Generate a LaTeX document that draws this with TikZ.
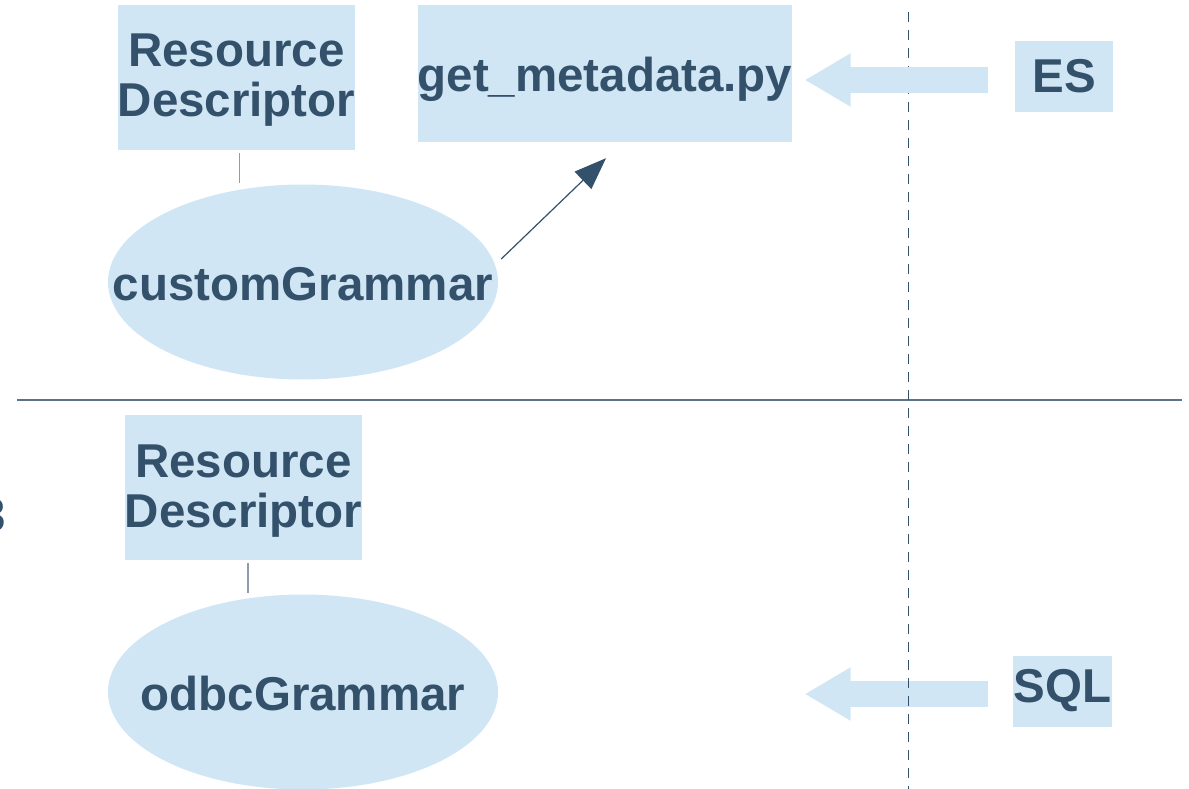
\documentclass[tikz,border=0pt]{standalone}
\usepackage{fontspec}
\setmainfont{Liberation Sans}
\usetikzlibrary{arrows.meta,shapes.geometric,positioning}
\definecolor{paleblue}{HTML}{D0E6F4}
\definecolor{inkblue}{HTML}{34516B}
\definecolor{rulegray}{HTML}{5E7389}
\definecolor{tiegray}{HTML}{8C9DB0}

\begin{document}
\begin{tikzpicture}[
  x=1pt, y=-1pt,
  label/.style={
    font=\fontsize{47.5}{50}\selectfont\bfseries,
    text=inkblue
  },
  box/.style={
    label,
    fill=paleblue,
    align=center,
    inner sep=0pt
  },
  descbox/.style={
    box,
    minimum width=237pt,
    minimum height=145pt,
    text height=89pt,
    text depth=10pt
  },
  blob/.style={
    label,
    ellipse,
    fill=paleblue,
    inner sep=0pt,
    minimum width=390pt,
    minimum height=195pt,
    text height=37pt,
    text depth=0pt
  },
  fat/.style={paleblue, line width=26pt, -{Triangle[length=46pt,width=50pt]},
    shorten <=27pt, shorten >=12pt},
  link/.style={inkblue, line width=1.2pt, -{Triangle[length=32pt,width=24pt]}},
  tie/.style={tiegray, line width=1.5pt},
  lane/.style={inkblue, line width=1pt, dash pattern=on 10pt off 8pt}
]
\useasboundingbox (0,0) rectangle (1189,789);

% upper half
\node[descbox] (desc1) at (236.5,77.5) {Resource\\Descriptor};
\node[box, minimum width=372pt, minimum height=137pt, text height=46pt, text depth=10pt] (meta) at (605,73.5) {get\_metadata.py};
\node[box, minimum width=98pt, minimum height=71pt] (es) at (1064,76.5) {ES};
\node[blob] (custom) at (303,282) {\makebox[0pt]{customGrammar}};

% lower half
\node[descbox] (desc2) at (243.5,487.5) {Resource\\Descriptor};
\node[blob] (odbc) at (303,692) {\makebox[0pt]{odbcGrammar}};
\node[box, minimum width=99pt, minimum height=71pt] (sql) at (1062.5,691) {SQL};
\node[label, anchor=base east, inner sep=0pt] (cut) at (6.5,531) {3};

\draw[rulegray, line width=1.2pt] (17,400) -- (1182,400);

\draw[fat, shorten <=25pt] ([yshift=-3pt]sql.west) -- ([yshift=-3pt]sql.west -| meta.east);
\draw[lane] (908,12) -- (908,789);
\draw[fat] ([yshift=-3.5pt]es.west) -- ([yshift=-3.5pt]es.west -| meta.east);

\draw[link] ([xshift=3pt,yshift=23pt]custom.east) -- ([xshift=1pt,yshift=-16pt]meta.south);
\draw[tie, shorten >=1.5pt] ([xshift=3pt,yshift=-3pt]desc1.south) -- ([xshift=3pt]desc1.south |- custom.north);
\draw[tie, shorten >=1.5pt] ([xshift=4.5pt,yshift=-3pt]desc2.south) -- ([xshift=4.5pt]desc2.south |- odbc.north);
\end{tikzpicture}
\end{document}
